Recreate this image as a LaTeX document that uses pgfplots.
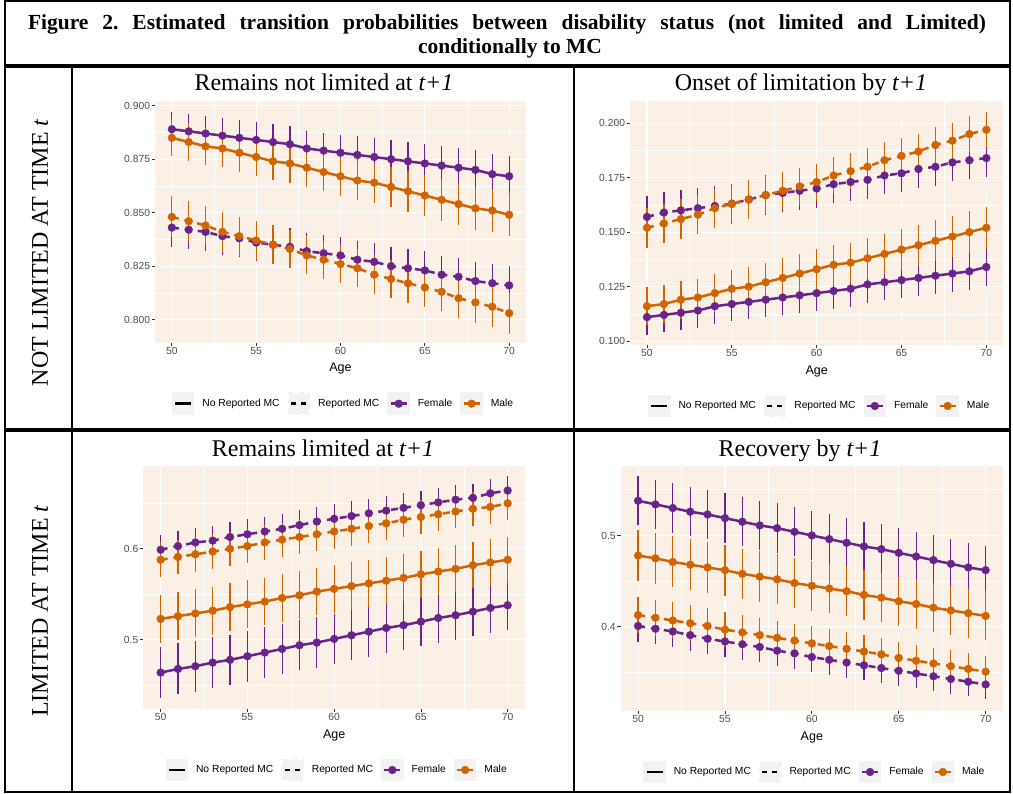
\documentclass[border=0pt]{standalone}
\usepackage{pgfplots}
\pgfplotsset{compat=1.18}
\usepackage{pgfplotstable}
\usepackage{fontspec}
\setmainfont{Liberation Serif}
\newfontfamily\arial{Liberation Sans}
\definecolor{pur}{HTML}{6A238C}
\definecolor{org}{HTML}{D26400}
\definecolor{panelbg}{HTML}{FAF0E6}
\definecolor{tickcol}{HTML}{4D4D4D}
\definecolor{tickmark}{HTML}{333333}
\definecolor{keybg}{HTML}{F2F2F2}

% Remains not limited at t+1
\pgfplotstableread{
age ps pse os ose pd pde od ode
50 0.889 0.0080 0.885 0.0086 0.843 0.0090 0.848 0.0096
51 0.888 0.0080 0.883 0.0087 0.842 0.0089 0.846 0.0094
52 0.887 0.0081 0.881 0.0087 0.841 0.0089 0.844 0.0093
53 0.886 0.0081 0.880 0.0088 0.839 0.0088 0.841 0.0092
54 0.885 0.0082 0.878 0.0088 0.838 0.0088 0.839 0.0091
55 0.884 0.0082 0.876 0.0089 0.836 0.0087 0.837 0.0090
56 0.883 0.0083 0.874 0.0089 0.835 0.0087 0.835 0.0090
57 0.882 0.0083 0.873 0.0090 0.834 0.0087 0.833 0.0089
58 0.880 0.0084 0.871 0.0090 0.832 0.0087 0.830 0.0089
59 0.879 0.0084 0.869 0.0091 0.831 0.0087 0.828 0.0089
60 0.878 0.0085 0.867 0.0092 0.830 0.0087 0.826 0.0089
61 0.877 0.0086 0.865 0.0092 0.828 0.0087 0.824 0.0089
62 0.876 0.0087 0.864 0.0093 0.827 0.0087 0.821 0.0090
63 0.875 0.0088 0.862 0.0094 0.825 0.0088 0.819 0.0090
64 0.874 0.0089 0.860 0.0095 0.824 0.0088 0.817 0.0091
65 0.873 0.0090 0.858 0.0096 0.823 0.0089 0.815 0.0091
66 0.872 0.0091 0.856 0.0097 0.821 0.0089 0.813 0.0092
67 0.871 0.0092 0.854 0.0098 0.820 0.0090 0.810 0.0093
68 0.870 0.0093 0.852 0.0099 0.818 0.0090 0.808 0.0094
69 0.868 0.0094 0.851 0.0100 0.817 0.0091 0.806 0.0095
70 0.867 0.0095 0.849 0.0101 0.816 0.0092 0.803 0.0096
}\tabA

% Onset of limitation by t+1
\pgfplotstableread{
age ps pse os ose pd pde od ode
50 0.111 0.0080 0.116 0.0086 0.157 0.0095 0.152 0.0092
51 0.112 0.0080 0.117 0.0086 0.159 0.0094 0.154 0.0091
52 0.113 0.0080 0.119 0.0087 0.160 0.0093 0.156 0.0091
53 0.114 0.0080 0.120 0.0087 0.161 0.0092 0.158 0.0090
54 0.116 0.0080 0.122 0.0088 0.162 0.0092 0.161 0.0089
55 0.117 0.0080 0.124 0.0088 0.163 0.0091 0.163 0.0088
56 0.118 0.0081 0.125 0.0089 0.165 0.0090 0.165 0.0088
57 0.119 0.0081 0.127 0.0089 0.167 0.0090 0.167 0.0087
58 0.120 0.0081 0.129 0.0090 0.168 0.0089 0.169 0.0086
59 0.121 0.0082 0.131 0.0090 0.169 0.0089 0.171 0.0086
60 0.122 0.0082 0.133 0.0091 0.170 0.0088 0.173 0.0085
61 0.123 0.0082 0.135 0.0091 0.172 0.0088 0.176 0.0085
62 0.124 0.0083 0.136 0.0092 0.173 0.0088 0.178 0.0084
63 0.126 0.0083 0.138 0.0092 0.174 0.0087 0.180 0.0084
64 0.127 0.0083 0.140 0.0093 0.176 0.0087 0.183 0.0083
65 0.128 0.0084 0.142 0.0093 0.177 0.0087 0.185 0.0083
66 0.129 0.0084 0.144 0.0094 0.179 0.0086 0.187 0.0082
67 0.130 0.0084 0.146 0.0094 0.180 0.0086 0.190 0.0082
68 0.131 0.0085 0.148 0.0095 0.182 0.0086 0.192 0.0081
69 0.132 0.0085 0.150 0.0095 0.183 0.0085 0.195 0.0081
70 0.134 0.0085 0.152 0.0096 0.184 0.0085 0.197 0.0080
}\tabB

% Remains limited at t+1
\pgfplotstableread{
age ps pse os ose pd pde od ode
50 0.464 0.0280 0.523 0.0265 0.599 0.0165 0.588 0.0190
51 0.468 0.0280 0.526 0.0265 0.603 0.0165 0.591 0.0190
52 0.471 0.0279 0.529 0.0264 0.607 0.0164 0.594 0.0190
53 0.475 0.0279 0.532 0.0264 0.609 0.0164 0.597 0.0189
54 0.478 0.0278 0.536 0.0263 0.613 0.0163 0.600 0.0189
55 0.482 0.0278 0.539 0.0263 0.616 0.0163 0.603 0.0189
56 0.486 0.0277 0.542 0.0262 0.619 0.0162 0.607 0.0188
57 0.490 0.0277 0.546 0.0262 0.622 0.0162 0.610 0.0188
58 0.494 0.0276 0.549 0.0261 0.626 0.0161 0.613 0.0188
59 0.497 0.0276 0.553 0.0261 0.630 0.0161 0.616 0.0187
60 0.501 0.0275 0.556 0.0260 0.633 0.0160 0.619 0.0187
61 0.505 0.0275 0.559 0.0260 0.636 0.0160 0.622 0.0187
62 0.509 0.0274 0.562 0.0259 0.639 0.0159 0.625 0.0186
63 0.513 0.0274 0.565 0.0259 0.642 0.0159 0.628 0.0186
64 0.516 0.0273 0.568 0.0258 0.645 0.0158 0.632 0.0186
65 0.520 0.0273 0.572 0.0258 0.648 0.0158 0.635 0.0185
66 0.524 0.0272 0.575 0.0257 0.651 0.0157 0.638 0.0185
67 0.527 0.0272 0.578 0.0257 0.654 0.0157 0.641 0.0185
68 0.531 0.0271 0.582 0.0256 0.656 0.0156 0.644 0.0184
69 0.535 0.0271 0.585 0.0256 0.661 0.0156 0.646 0.0184
70 0.538 0.0270 0.588 0.0255 0.664 0.0155 0.650 0.0184
}\tabC

% Recovery by t+1
\pgfplotstableread{
age ps pse os ose pd pde od ode
50 0.538 0.0270 0.478 0.0280 0.401 0.0170 0.413 0.0200
51 0.534 0.0270 0.475 0.0279 0.398 0.0170 0.410 0.0198
52 0.530 0.0270 0.471 0.0279 0.395 0.0169 0.407 0.0197
53 0.526 0.0270 0.468 0.0278 0.391 0.0169 0.404 0.0195
54 0.523 0.0270 0.465 0.0278 0.387 0.0168 0.401 0.0194
55 0.519 0.0270 0.462 0.0277 0.384 0.0168 0.397 0.0192
56 0.515 0.0270 0.458 0.0276 0.381 0.0167 0.394 0.0191
57 0.511 0.0270 0.455 0.0276 0.378 0.0167 0.391 0.0189
58 0.508 0.0270 0.452 0.0275 0.374 0.0166 0.388 0.0188
59 0.504 0.0270 0.448 0.0275 0.371 0.0166 0.385 0.0186
60 0.500 0.0270 0.445 0.0274 0.367 0.0165 0.382 0.0185
61 0.496 0.0270 0.442 0.0273 0.364 0.0165 0.379 0.0183
62 0.492 0.0270 0.439 0.0273 0.361 0.0164 0.376 0.0182
63 0.488 0.0270 0.435 0.0272 0.358 0.0164 0.373 0.0180
64 0.485 0.0270 0.432 0.0272 0.355 0.0163 0.370 0.0179
65 0.481 0.0270 0.428 0.0271 0.352 0.0163 0.366 0.0177
66 0.477 0.0270 0.425 0.0270 0.349 0.0162 0.363 0.0176
67 0.473 0.0270 0.421 0.0270 0.346 0.0162 0.360 0.0174
68 0.469 0.0270 0.418 0.0269 0.343 0.0161 0.357 0.0173
69 0.465 0.0270 0.415 0.0269 0.340 0.0161 0.354 0.0171
70 0.462 0.0270 0.412 0.0268 0.337 0.0160 0.351 0.0170
}\tabD

\pgfplotsset{
  panel/.style={
    scale only axis, anchor=south west,
    xmin=49, xmax=71,
    axis background/.style={fill=panelbg},
    axis line style={draw=none},
    xtick={50,55,60,65,70},
    xticklabels={50,55,60,65,70},
    minor xtick={52.5,57.5,62.5,67.5},
    grid=both,
    major grid style={white, line width=1.1pt},
    minor grid style={white, line width=0.55pt},
    tick align=outside,
    major tick length=3.3pt,
    minor tick length=0pt,
    tick style={tickmark, line width=0.8pt},
    xtick pos=bottom, ytick pos=left,
    xticklabel style={font=\arial\fontsize{10.3}{12}\selectfont, text=tickcol, inner sep=1pt},
    yticklabel style={font=\arial\fontsize{10.3}{12}\selectfont, text=tickcol, inner sep=1.5pt},
    xlabel={Age},
    xlabel style={font=\arial\fontsize{12.5}{14}\selectfont, text=black, at={(axis description cs:0.5,0)}, anchor=base, yshift=-29.3pt},
    legend columns=4,
    legend cell align=left,
    legend style={draw=none, fill=none, at={(axis description cs:0.5,0)}, anchor=center, xshift=3pt, yshift=-61pt,
       font=\arial\fontsize{10.3}{12}\selectfont, column sep=6pt},
    error bars/y dir=both, error bars/y explicit, error bars/error mark=none,
    error bars/error bar style={solid, line width=1.2pt},
  },
  solidser/.style={forget plot, line width=2.5pt, mark=*, mark size=3.9pt, mark options={solid, line width=0.4pt}},
  dashser/.style={forget plot, line width=2.5pt, dash pattern=on 7pt off 6pt, mark=*, mark size=3.9pt, mark options={solid, line width=0.4pt}},
  keyline/.style={legend image code/.code={
     \fill[keybg] (0pt,-10pt) rectangle (20pt,10pt);
     \draw[##1] (2pt,0pt) -- (18pt,0pt);
  }},
  keymark/.style={legend image code/.code={
     \fill[keybg] (0pt,-10pt) rectangle (20pt,10pt);
     \draw[##1, mark repeat=2, mark phase=2] plot coordinates {(2pt,0pt) (10pt,0pt) (18pt,0pt)};
  }},
}

\newcommand{\legendkeys}{%
  \addlegendimage{keyline, black, line width=2.5pt}
  \addlegendentry{No Reported MC}
  \addlegendimage{keyline, black, line width=2.5pt, dash pattern=on 5pt off 5pt}
  \addlegendentry{Reported MC\hspace{26pt}}
  \addlegendimage{keymark, pur, line width=2.5pt, mark=*, mark size=3.9pt, mark options={solid, line width=0.4pt}}
  \addlegendentry{Female}
  \addlegendimage{keymark, org, line width=2.5pt, mark=*, mark size=3.9pt, mark options={solid, line width=0.4pt}}
  \addlegendentry{Male}
}
\newcommand{\series}[1]{%
  \addplot[pur, solidser] table[x=age, y=ps, y error=pse] {#1};
  \addplot[org, solidser] table[x=age, y=os, y error=ose] {#1};
  \addplot[pur, dashser] table[x=age, y=pd, y error=pde] {#1};
  \addplot[org, dashser] table[x=age, y=od, y error=ode] {#1};
}

\begin{document}
\begin{tikzpicture}
\useasboundingbox (0pt,0pt) rectangle (1013pt,794pt);
\fill[white] (0pt,0pt) rectangle (1013pt,794pt);

% frame
\draw[line width=1.5pt] (5pt,2pt) rectangle (1010pt,793pt);
\draw[line width=3.5pt] (5pt,728pt) -- (1010pt,728pt);
\draw[line width=3.5pt] (5pt,364pt) -- (1010pt,364pt);
\draw[line width=1.5pt] (72pt,728pt) -- (72pt,2pt);
\draw[line width=1.5pt] (574pt,728pt) -- (574pt,2pt);

% titles
\node[anchor=base, font=\fontsize{21.5}{24}\selectfont\bfseries\frenchspacing, inner sep=0pt] at (507pt,764pt)
  {\makebox[958pt][s]{Figure 2. Estimated transition probabilities between disability status (not limited and Limited)}};
\node[anchor=base, font=\fontsize{21.5}{24}\selectfont\bfseries] at (510pt,740pt) {conditionally to MC};
\node[rotate=90, font=\fontsize{24}{28}\selectfont] at (40pt,541.5pt) {NOT LIMITED AT TIME \textit{t}};
\node[rotate=90, font=\fontsize{24}{28}\selectfont] at (40pt,183pt) {LIMITED AT TIME \textit{t}};
\node[anchor=base, font=\fontsize{24}{28}\selectfont] at (324pt,703pt) {Remains not limited at \textit{t+1}};
\node[anchor=base, font=\fontsize{24}{28}\selectfont] at (801pt,703pt) {Onset of limitation by \textit{t+1}};
\node[anchor=base, font=\fontsize{24}{28}\selectfont] at (323pt,337.3pt) {Remains limited at \textit{t+1}};
\node[anchor=base, font=\fontsize{24}{28}\selectfont] at (800pt,337.3pt) {Recovery by \textit{t+1}};

\begin{axis}[panel, at={(155pt,451.3pt)}, width=371pt, height=241.7pt,
  ymin=0.7892, ymax=0.9022,
  ytick={0.8,0.825,0.85,0.875,0.9}, yticklabels={0.800,0.825,0.850,0.875,0.900},
  minor ytick={0.8125,0.8375,0.8625,0.8875}]
\legendkeys
\series{\tabA}
\end{axis}

\begin{axis}[panel, at={(630pt,449pt)}, width=373.3pt, height=244pt,
  ymin=0.0982, ymax=0.2102,
  ytick={0.1,0.125,0.15,0.175,0.2}, yticklabels={0.100,0.125,0.150,0.175,0.200},
  minor ytick={0.1125,0.1375,0.1625,0.1875}]
\legendkeys
\series{\tabB}
\end{axis}

\begin{axis}[panel, at={(143.3pt,85pt)}, width=381.7pt, height=243pt,
  ymin=0.424, ymax=0.691,
  ytick={0.5,0.6}, yticklabels={0.5,0.6},
  minor ytick={0.45,0.55,0.65}]
\legendkeys
\series{\tabC}
\end{axis}

\begin{axis}[panel, at={(620.7pt,83pt)}, width=382.3pt, height=245pt,
  ymin=0.308, ymax=0.576,
  ytick={0.4,0.5}, yticklabels={0.4,0.5},
  minor ytick={0.35,0.45,0.55}]
\legendkeys
\series{\tabD}
\end{axis}
\end{tikzpicture}
\end{document}
